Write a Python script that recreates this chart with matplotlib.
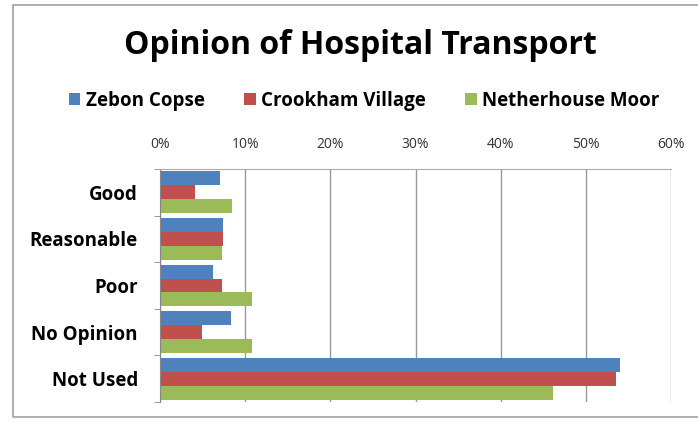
import matplotlib.pyplot as plt
import numpy as np
from matplotlib.patches import Rectangle

categories = ['Good', 'Reasonable', 'Poor', 'No Opinion', 'Not Used']
series = ['Zebon Copse', 'Crookham Village', 'Netherhouse Moor']
zebon = [7.1, 7.4, 6.2, 8.3, 54.0]
crookham = [4.1, 7.4, 7.3, 4.9, 53.6]
netherhouse = [8.4, 7.3, 10.8, 10.8, 46.2]
colors = ['#4F81BD', '#C0504D', '#9BBB59']
xticks = [0, 10, 20, 30, 40, 50, 60]

plt.rcParams['font.family'] = ['Open Sans', 'DejaVu Sans']

fig = plt.figure(figsize=(6.98, 4.22), dpi=100)
fig.patches.append(Rectangle((13 / 698, 1 - 417 / 422), 1.2, 412 / 422,
                             transform=fig.transFigure, fill=False,
                             edgecolor='#a0a0a0', linewidth=1.2))

ax = fig.add_axes([160 / 698, 1 - 402 / 422, 511 / 698, 233 / 422])
y = np.arange(len(categories))
h = 0.3
for i, (vals, name) in enumerate(zip([zebon, crookham, netherhouse], series)):
    ax.barh(y + (i - 1) * h, vals, height=h, color=colors[i], label=name)

ax.set_xlim(0, 60)
ax.set_ylim(len(categories) - 0.5, -0.5)
ax.set_xticks(xticks)
ax.set_xticklabels([f'{t}%' for t in xticks], fontsize=10, color='#333333')
ax.xaxis.tick_top()
ax.tick_params(axis='x', length=0, pad=12)
ax.set_yticks(y)
ax.set_yticklabels(categories, fontsize=13.5, fontweight='bold')
ax.set_yticks(np.arange(len(categories) + 1) - 0.5, minor=True)
ax.tick_params(axis='y', which='major', length=0, pad=16)
ax.tick_params(axis='y', which='minor', length=4, color='#888888')
ax.grid(axis='x', color='#999999', linewidth=1)
ax.set_axisbelow(True)
for s in ['right', 'bottom']:
    ax.spines[s].set_visible(False)
ax.spines['top'].set_color('#aaaaaa')
ax.spines['left'].set_color('#888888')

fig.text(0.517, 1 - 45 / 422, 'Opinion of Hospital Transport', ha='center', va='center',
         fontsize=23, fontweight='bold')
fig.legend(loc='center', bbox_to_anchor=(0.522, 1 - 101 / 422), ncol=3, frameon=False,
           prop={'size': 13.5, 'weight': 'bold'}, handlelength=0.6, handleheight=0.6,
           handletextpad=0.3, columnspacing=2.1)

fig.savefig('out.png', dpi=100)
